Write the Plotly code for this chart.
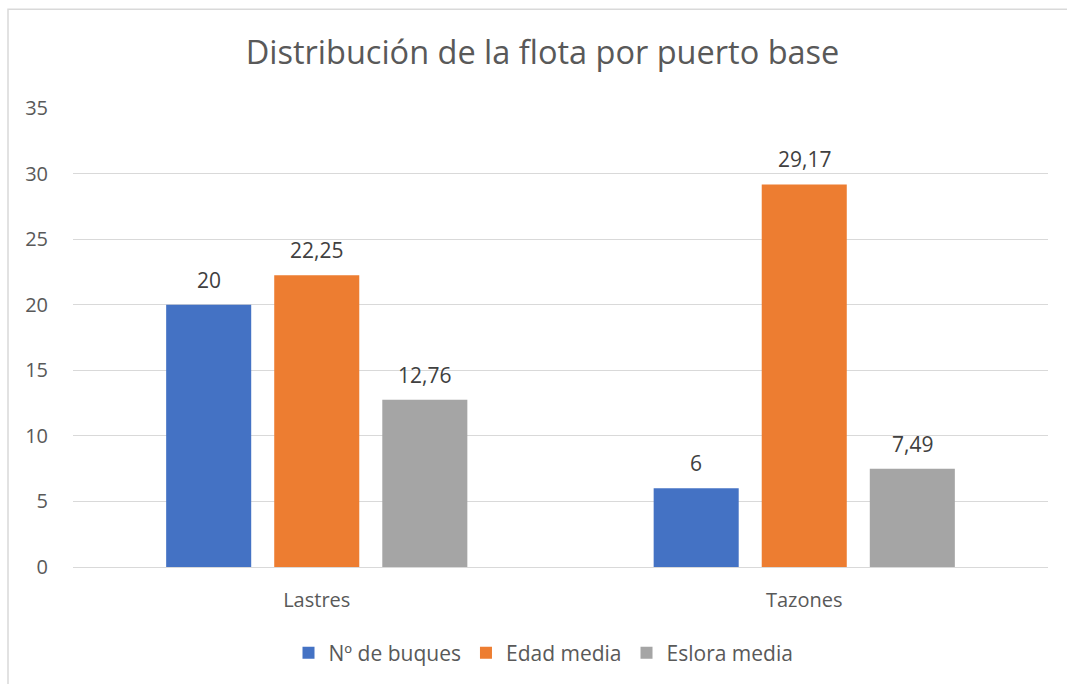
import plotly.graph_objects as go

categories = ["Lastres", "Tazones"]
series_names = ["Nº de buques", "Edad media", "Eslora media"]
buques = [20, 6]
edad = [22.25, 29.17]
eslora = [12.76, 7.49]
colors = ["#4472C4", "#ED7D31", "#A5A5A5"]
y_ticks = [0, 5, 10, 15, 20, 25, 30, 35]

W, H = 1067, 684
L, R, T, B = 73, 19, 108, 116
pw, ph = W - L - R, H - T - B
BARGAP, GROUPGAP = 0.335, 0.213

def fmt(v):
    return ("%g" % v).replace(".", ",")

def px_x(p):
    return (p - L) / pw

def px_y(p):
    return (H - B - p) / ph

all_series = [buques, edad, eslora]
fig = go.Figure()
for name, vals, col in zip(series_names, all_series, colors):
    fig.add_trace(go.Bar(
        x=categories, y=vals, name=name, marker=dict(color=col, line=dict(width=0)),
        hoverinfo="x+y+name",
    ))

slot = (1 - BARGAP) / len(all_series)
annotations = []
for j, vals in enumerate(all_series):
    for i, v in enumerate(vals):
        annotations.append(dict(
            x=i + (j - (len(all_series) - 1) / 2) * slot, y=v, xref="x", yref="y",
            text=fmt(v), showarrow=False, yanchor="middle", yshift=25,
            font=dict(size=21, color="#404040"),
        ))

fig.update_layout(
    width=W, height=H,
    margin=dict(l=L, r=R, t=T, b=B),
    paper_bgcolor="white", plot_bgcolor="white",
    font=dict(family="Open Sans, Noto Sans, sans-serif", color="#595959", size=20),
    title=dict(text="Distribución de la flota por puerto base", x=0.5 + 9 / W, xanchor="center",
               y=1 - 53 / H, yanchor="middle",
               font=dict(size=32.5, color="#595959")),
    barmode="group", bargap=BARGAP, bargroupgap=GROUPGAP,
    showlegend=True,
    legend=dict(orientation="h", x=0.5 - 17 / pw, xanchor="center", y=px_y(653), yanchor="middle",
                font=dict(size=21, color="#595959"), itemwidth=30, tracegroupgap=0),
    xaxis=dict(showgrid=False, showline=True, linecolor="#D9D9D9", linewidth=1,
               ticks="", tickfont=dict(size=20, color="#595959"), ticklabelstandoff=15),
    yaxis=dict(range=[0, 35], tickvals=y_ticks, showgrid=True, gridcolor="#D9D9D9",
               gridwidth=1, zeroline=False, showline=False, ticks="",
               tickfont=dict(size=20, color="#595959"), ticklabelstandoff=24),
    annotations=annotations,
    shapes=[dict(type="rect", xref="paper", yref="paper",
                 x0=px_x(8), x1=px_x(1075), y0=px_y(692), y1=px_y(9),
                 line=dict(color="#D9D9D9", width=1.5), fillcolor="rgba(0,0,0,0)", layer="below")],
)
fig.write_html("out.html", config={"displayModeBar": False},
               post_script="document.body.style.margin='0';document.body.style.padding='0';")
